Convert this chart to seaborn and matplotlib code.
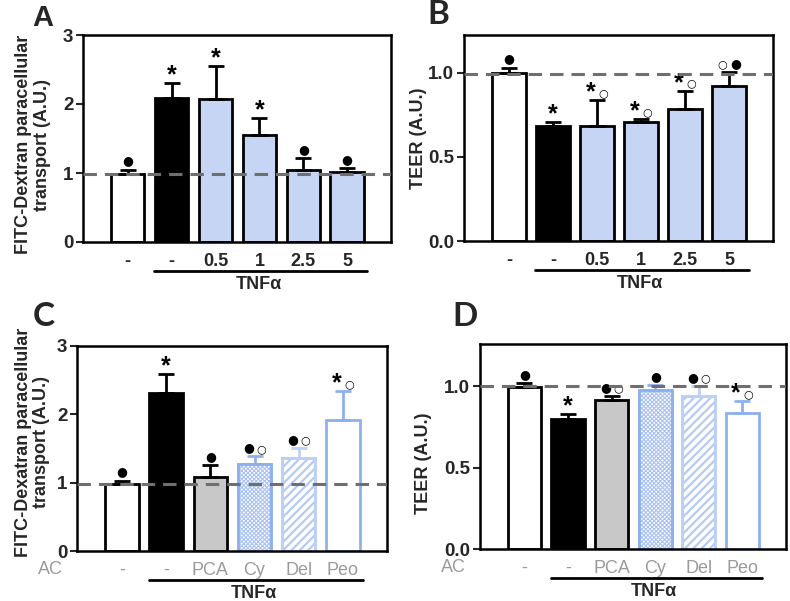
import matplotlib
matplotlib.use("Agg")
import matplotlib.pyplot as plt
import matplotlib.transforms as mtransforms
import seaborn as sns
import pandas as pd
import numpy as np

sns.set_style("white")
plt.rcParams['font.family'] = ['Liberation Sans', 'DejaVu Sans']
plt.rcParams['hatch.linewidth'] = 0.8

# ---------------- data ----------------
keys = ["c0", "c1", "c2", "c3", "c4", "c5"]

labels_AB = ["-", "-", "0.5", "1", "2.5", "5"]
labels_CD = ["-", "-", "PCA", "Cy", "Del", "Peo"]

A_mean = [0.99, 2.08, 2.07, 1.55, 1.05, 1.02]
A_err = [0.06, 0.22, 0.48, 0.24, 0.17, 0.05]
A_sig = ["●", "*", "*", "*", "●", "●"]

B_mean = [1.00, 0.686, 0.684, 0.706, 0.784, 0.921]
B_err = [0.03, 0.022, 0.153, 0.018, 0.109, 0.085]
B_sig = ["●", "*", "*○", "*○", "*○", "○●"]

C_mean = [0.98, 2.31, 1.09, 1.28, 1.366, 1.91]
C_err = [0.05, 0.275, 0.17, 0.105, 0.144, 0.43]
C_sig = ["●", "*", "●", "●○", "●○", "*○"]

D_mean = [0.994, 0.798, 0.912, 0.973, 0.937, 0.834]
D_err = [0.024, 0.028, 0.028, 0.033, 0.065, 0.074]
D_sig = ["●", "*", "●○", "●", "●○", "*○"]

ref_line = {"A": 0.98, "B": 0.99, "C": 0.98, "D": 1.0}

# ---------------- styles ----------------
LB = "#c6d5f3"
MB = "#8fb0ef"
PB = "#bdd0f5"
GR = "#c8c8c8"
fill_AB = ["white", "black", LB, LB, LB, LB]
edge_AB = ["black"] * 6
err_AB = ["black"] * 6
fill_CD = ["white", "black", GR, "white", "white", "white"]
edge_CD = ["black", "black", "black", MB, PB, MB]
err_CD = ["black", "black", "black", MB, PB, MB]
hatch_CD = [None, None, None, "xxxxxxxx", "////", None]
hatchcol_CD = [None, None, None, "#aac2f2", "#b5cbf4", None]
hatchlw_CD = [None, None, None, 0.8, 1.6, None]

fig = plt.figure(figsize=(7.9, 6.01), dpi=100)
W, H = 790, 601


def add_ax(l, r, t, b):
    return fig.add_axes([l / W, 1 - b / H, (r - l) / W, (b - t) / H])


axA = add_ax(83, 391, 35, 242)
axB = add_ax(464, 773, 35, 241)
axC = add_ax(77, 387, 346, 551)
axD = add_ax(480, 786, 344, 549)


def panel(ax, means, errs, sigs, ticklabels, fills, edges, errcols, ylim,
          yticks, yticklabels, ylabel, line_y, hatches=None, hatchcols=None,
          hatchlws=None, gray_ticks=False, ac=False, ylab_x=-0.12, ylab_y=0.5):
    df = pd.DataFrame({"k": keys, "v": means})
    sns.barplot(data=df, x="k", y="v", hue="k", palette=dict(zip(keys, fills)),
                order=keys, width=0.76, errorbar=None, legend=False,
                edgecolor="black", linewidth=2, ax=ax, saturation=1)
    bars = [p for p in ax.patches][:6]
    for i, p in enumerate(bars):
        p.set_edgecolor(edges[i])
        p.set_linewidth(2)
        if hatches is not None and hatches[i]:
            p.set_hatch(hatches[i])
            p.set_edgecolor(hatchcols[i])
            if hasattr(p, "set_hatch_linewidth"):
                p.set_hatch_linewidth(hatchlws[i])
            ax.bar(i, means[i], width=0.76, facecolor="none",
                   edgecolor=edges[i], linewidth=2, zorder=p.get_zorder() + 0.1)
    for i in range(6):
        ax.errorbar(i, means[i], yerr=[[0], [errs[i]]], fmt="none",
                    ecolor=errcols[i], elinewidth=2, capsize=6, capthick=2,
                    zorder=1.5)
        txt = sigs[i]
        top = means[i] + errs[i]
        xoff = -0.5 * (len(txt) - 1) * 9
        for j, ch in enumerate(txt):
            if ch == "*":
                ax.annotate("*", (i, top), xytext=(xoff + j * 9, -3),
                            textcoords="offset points", ha="center",
                            va="bottom", fontsize=18, fontweight="bold",
                            color="black", annotation_clip=False)
            else:
                fs = 9 if ch == "●" else 8
                ax.annotate(ch, (i, top), xytext=(xoff + j * 9, 1.5),
                            textcoords="offset points", ha="center",
                            va="bottom", fontsize=fs,
                            family=["DejaVu Sans"], color="black",
                            annotation_clip=False)
    ax.axhline(line_y, color="#6f6f6f", lw=2.2, ls=(0, (4.4, 2.6)), zorder=3)
    ax.set_xlim(-1.02, 6.0)
    ax.set_ylim(*ylim)
    ax.set_yticks(yticks)
    ax.set_yticklabels(yticklabels, fontsize=13.5, fontweight="bold")
    ax.set_xticks(range(6))
    if gray_ticks:
        ax.set_xticklabels(ticklabels, fontsize=13, color="#9b9b9b")
    else:
        ax.set_xticklabels(ticklabels, fontsize=13, fontweight="bold")
    ax.tick_params(axis="x", length=0, pad=8)
    ax.tick_params(axis="y", length=5, width=1.5, direction="out", pad=2,
                   left=True)
    for s in ax.spines.values():
        s.set_visible(True)
        s.set_linewidth(1.8)
        s.set_color("black")
    ax.set_xlabel("")
    ax.set_ylabel(ylabel, fontsize=13, fontweight="bold", linespacing=1.1)
    ax.yaxis.set_label_coords(ylab_x, ylab_y)
    trans = mtransforms.blended_transform_factory(ax.transData, ax.transAxes)
    ax.plot([0.6, 5.45], [-0.142, -0.142], color="black", lw=2,
            transform=trans, clip_on=False)
    ax.text(2.98, -0.205, "TNFα", transform=trans, ha="center", va="center",
            fontsize=13, fontweight="bold")
    if ac:
        ax.text(-1.62, -0.09, "AC", transform=trans, ha="center", va="center",
                fontsize=13, color="#9b9b9b")


panel(axA, A_mean, A_err, A_sig, labels_AB, fill_AB, edge_AB, err_AB,
      (0, 3), [0, 1, 2, 3], ["0", "1", "2", "3"],
      "FITC-Dextran paracellular\ntransport (A.U.)", ref_line["A"],
      ylab_x=-0.105, ylab_y=0.47)
panel(axB, B_mean, B_err, B_sig, labels_AB, fill_AB, edge_AB, err_AB,
      (0, 1.224), [0, 0.5, 1.0], ["0.0", "0.5", "1.0"],
      "TEER (A.U.)", ref_line["B"], ylab_x=-0.12)
panel(axC, C_mean, C_err, C_sig, labels_CD, fill_CD, edge_CD, err_CD,
      (0, 3), [0, 1, 2, 3], ["0", "1", "2", "3"],
      "FITC-Dexatran paracellular\ntransport (A.U.)", ref_line["C"],
      hatches=hatch_CD, hatchcols=hatchcol_CD, hatchlws=hatchlw_CD,
      gray_ticks=True, ac=True, ylab_x=-0.087, ylab_y=0.53)
panel(axD, D_mean, D_err, D_sig, labels_CD, fill_CD, edge_CD, err_CD,
      (0, 1.258), [0, 0.5, 1.0], ["0.0", "0.5", "1.0"],
      "TEER (A.U.)", ref_line["D"], hatches=hatch_CD, hatchcols=hatchcol_CD,
      hatchlws=hatchlw_CD, gray_ticks=True, ac=True, ylab_x=-0.157,
      ylab_y=0.42)

# panel letters
fig.text(32 / W, 1 - 26 / H, "A", fontsize=21, fontweight="bold",
         va="baseline", ha="left")
fig.text(427 / W, 1 - 14 / H, "B", fontsize=24, fontweight="bold",
         va="center", ha="left", family=["Lato", "DejaVu Sans"])
fig.text(33 / W, 1 - 316 / H, "C", fontsize=24, fontweight="bold",
         va="center", ha="left", family=["Lato", "DejaVu Sans"])
fig.text(452 / W, 1 - 316 / H, "D", fontsize=24, fontweight="bold",
         va="center", ha="left", family=["Lato", "DejaVu Sans"])

fig.savefig("out.png", dpi=100)
